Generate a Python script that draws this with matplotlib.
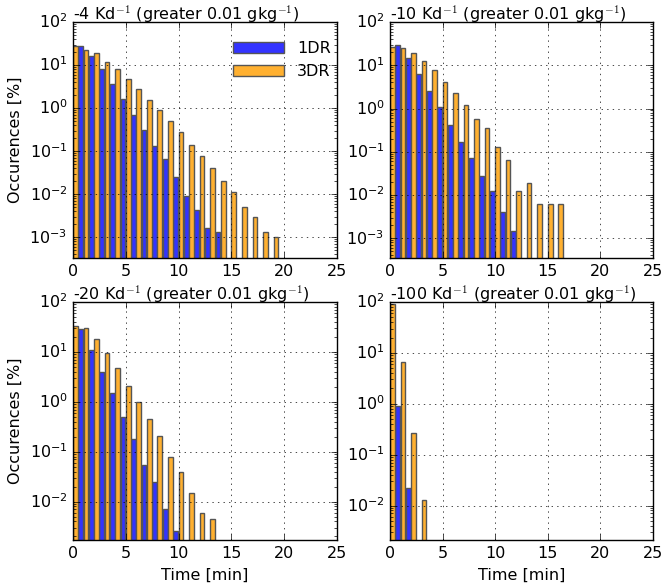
import numpy as np
import matplotlib.pyplot as plt

plt.style.use('classic')

# occurrences [%] per 1-min bin (bin 0, 1, 2, ...)
dr1_4 = [28, 28, 16, 7.9, 3.6, 1.6, 0.69, 0.31, 0.135, 0.065, 0.025, 0.0091, 0.0043, 0.0016, 0.0013]
dr3_4 = [28, 22, 18.6, 12, 7.9, 4.7, 2.8, 1.57, 0.91, 0.50, 0.28, 0.14, 0.077, 0.041, 0.020,
         0.011, 0.005, 0.0030, 0.0013, 0.001]
dr1_10 = [29, 29, 14.5, 6.3, 2.6, 1.1, 0.41, 0.17, 0.071, 0.028, 0.0126, 0.0040, 0.0015]
dr3_10 = [26, 25, 19.5, 12.7, 7.7, 4.2, 2.3, 1.2, 0.58, 0.36, 0.13, 0.063, 0.0126, 0.019,
          0.0063, 0.0063, 0.0063]
dr1_20 = [30, 29, 11, 3.9, 1.5, 0.50, 0.18, 0.054, 0.025, 0.0071, 0.0026]
dr3_20 = [33, 30, 18, 9.3, 4.7, 2.1, 1.0, 0.45, 0.21, 0.077, 0.040, 0.015, 0.006, 0.0044]
dr1_100 = [90, 0.91, 0.022]
dr3_100 = [92, 6.6, 0.27, 0.0126]

panels = [
    ('-4', dr1_4, dr3_4, 3.3e-4),
    ('-10', dr1_10, dr3_10, 3.5e-4),
    ('-20', dr1_20, dr3_20, 1.7e-3),
    ('-100', dr1_100, dr3_100, 2.1e-3),
]

W, H = 663, 584
# axes boxes in pixels: left, top, right, bottom
boxes = [(73, 22, 337, 258), (390, 22, 653, 258),
         (73, 302, 337, 540), (390, 302, 653, 540)]

fig = plt.figure(figsize=(W / 100, H / 100), dpi=100)
fig.patch.set_facecolor('white')
w = 0.45
for k, (box, (lab, a, b, ymin)) in enumerate(zip(boxes, panels)):
    l, t, r, btm = box
    ax = fig.add_axes([l / W, 1 - btm / H, (r - l) / W, (btm - t) / H])
    xa = np.arange(len(a))
    xb = np.arange(len(b))
    ax.bar(xa - 0.5, a, width=w, align='edge', color='#3333ff', edgecolor='#555555',
           linewidth=1, label='1DR')
    ax.bar(xb, b, width=w, align='edge', color='#ffb030', edgecolor='#555555',
           linewidth=1, label='3DR')
    ax.set_yscale('log')
    ax.set_xlim(0, 25)
    ax.set_ylim(ymin, 100)
    ax.grid(True, linestyle=':', color='black')
    ax.tick_params(labelsize=11.5)
    ax.set_title(lab + r' Kd$^{-1}$ (greater 0.01 gkg$^{-1}$)', loc='left', fontsize=11.5, pad=2)
    if k % 2 == 0:
        ax.set_ylabel('Occurences [%]', fontsize=11.5)
    if k >= 2:
        ax.set_xlabel('Time [min]', fontsize=11.5)
    if k == 0:
        ax.legend(loc='upper right', frameon=False, fontsize=11.5, handlelength=3.2,
                  bbox_to_anchor=(1.03, 0.98))

plt.savefig('out.png', dpi=100, facecolor='white')
